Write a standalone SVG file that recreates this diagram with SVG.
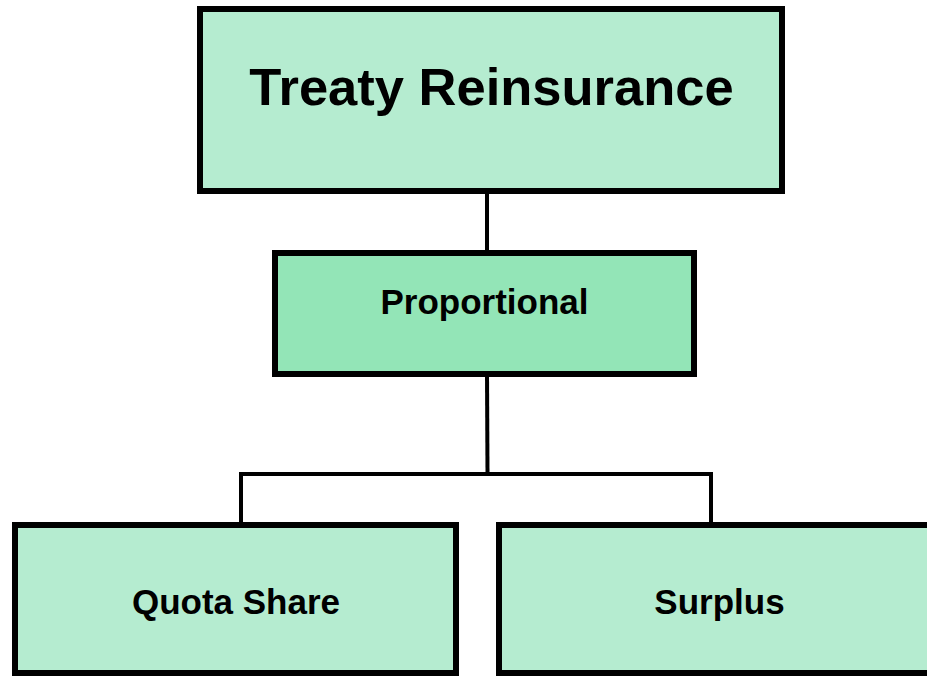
<svg xmlns="http://www.w3.org/2000/svg" width="927" height="676" viewBox="0 0 927 676">
<style>
.box{stroke:#000;stroke-width:6}
.light{fill:#b5ecd0}
.mid{fill:#93e5b7}
.lbl{font-family:"Liberation Sans",Arial,sans-serif;font-weight:bold;fill:#000;text-anchor:middle}
.conn{stroke:#000;stroke-width:4;fill:none}
</style>
<rect width="927" height="676" fill="#fff"/>
<g id="connectors">
<line class="conn" x1="487" y1="191" x2="487" y2="253"/>
<line class="conn" x1="487" y1="374" x2="487.5" y2="474"/>
<polyline class="conn" points="241,524 241,474 711,474 711,524"/>
</g>
<g id="treaty">
<rect class="box light" x="200" y="9" width="582" height="182"/>
<text class="lbl" x="491.5" y="105" font-size="52.5">Treaty Reinsurance</text>
</g>
<g id="proportional">
<rect class="box mid" x="275" y="253" width="419" height="121"/>
<text class="lbl" x="484.5" y="314" font-size="35">Proportional</text>
</g>
<g id="quota">
<rect class="box light" x="15" y="525" width="441" height="148"/>
<text class="lbl" x="236" y="614" font-size="35">Quota Share</text>
</g>
<g id="surplus">
<rect class="box light" x="499" y="525" width="440" height="148"/>
<text class="lbl" x="719.5" y="614" font-size="35">Surplus</text>
</g>
</svg>
